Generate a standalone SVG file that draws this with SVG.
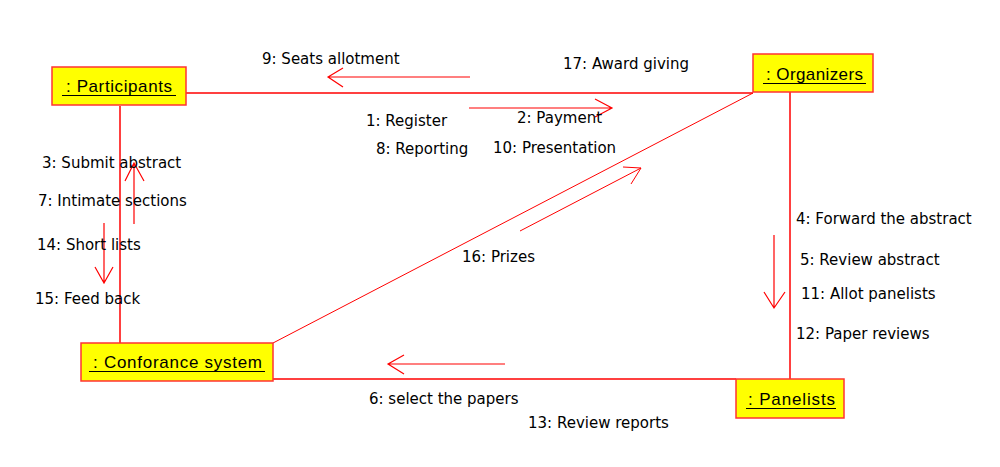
<svg xmlns="http://www.w3.org/2000/svg" width="1000" height="467" viewBox="0 0 1000 467">
<style>
.box{fill:#ffff00;stroke:#ff3333;stroke-width:1.5}
.nt{font-family:"Liberation Sans",Arial,sans-serif;font-size:17px;fill:#000}
.ul{stroke:#000;stroke-width:1.2}
.lnk{stroke:#ff0000;stroke-width:1.5;fill:none}
.diag{stroke:#ff0000;stroke-width:1;fill:none}
.arr{stroke:#ff0000;stroke-width:1.2;fill:none}
.lb{font-family:"DejaVu Sans",Verdana,sans-serif;font-size:15px;fill:#000}
</style>
<rect width="1000" height="467" fill="#fff"/>
<g id="connectors">
<line class="lnk" x1="186" y1="93" x2="753" y2="93"/>
<line class="lnk" x1="120" y1="106" x2="120" y2="343"/>
<line class="lnk" x1="790" y1="92" x2="790" y2="379"/>
<line class="lnk" x1="273" y1="379" x2="736" y2="379"/>
<line class="diag" x1="273" y1="343" x2="753" y2="93"/>
<path class="arr" d="M470,77 L328,77 M343,68 L328,77 L343,87"/>
<path class="arr" d="M469,108 L612,108 M595,99 L612,108 L595,117"/>
<path class="arr" d="M134,224 L134,163 M125,181 L134,163 L144,181"/>
<path class="arr" d="M104,223 L104,283 M95,267 L104,283 L113,267"/>
<path class="arr" d="M774,235 L774,308 M764,292 L774,308 L785,292"/>
<path class="arr" d="M505,364 L388,364 M404,355 L388,364 L404,374"/>
<path class="diag" d="M520,231 L641,168 M623,167 L641,168 L631,184"/>
</g>
<g id="participants">
<rect class="box" x="52" y="67" width="134" height="38"/>
<text class="nt" x="66" y="92" textLength="106" lengthAdjust="spacing">: Participants</text>
<line class="ul" x1="62" y1="95.5" x2="176" y2="95.5"/>
</g>
<g id="organizers">
<rect class="box" x="753" y="54" width="120" height="38"/>
<text class="nt" x="766" y="80" textLength="97" lengthAdjust="spacing">: Organizers</text>
<line class="ul" x1="763" y1="83.5" x2="866" y2="83.5"/>
</g>
<g id="conforance">
<rect class="box" x="81" y="343" width="192" height="38"/>
<text class="nt" x="93" y="368" textLength="169" lengthAdjust="spacing">: Conforance system</text>
<line class="ul" x1="89" y1="371.5" x2="265" y2="371.5"/>
</g>
<g id="panelists">
<rect class="box" x="736" y="379" width="108" height="39"/>
<text class="nt" x="748" y="405" textLength="87" lengthAdjust="spacing">: Panelists</text>
<line class="ul" x1="746" y1="408.5" x2="836" y2="408.5"/>
</g>
<g id="labels">
<text class="lb" x="262" y="64">9: Seats allotment</text>
<text class="lb" x="563" y="69">17: Award giving</text>
<text class="lb" x="366" y="126">1: Register</text>
<text class="lb" x="517" y="123">2: Payment</text>
<text class="lb" x="376" y="154">8: Reporting</text>
<text class="lb" x="493" y="153">10: Presentation</text>
<text class="lb" x="42" y="168">3: Submit abstract</text>
<text class="lb" x="38" y="206">7: Intimate sections</text>
<text class="lb" x="37" y="250">14: Short lists</text>
<text class="lb" x="35" y="304">15: Feed back</text>
<text class="lb" x="796" y="224">4: Forward the abstract</text>
<text class="lb" x="800" y="265">5: Review abstract</text>
<text class="lb" x="801" y="299">11: Allot panelists</text>
<text class="lb" x="796" y="339">12: Paper reviews</text>
<text class="lb" x="462" y="262">16: Prizes</text>
<text class="lb" x="369" y="404">6: select the papers</text>
<text class="lb" x="528" y="428">13: Review reports</text>
</g>
</svg>
